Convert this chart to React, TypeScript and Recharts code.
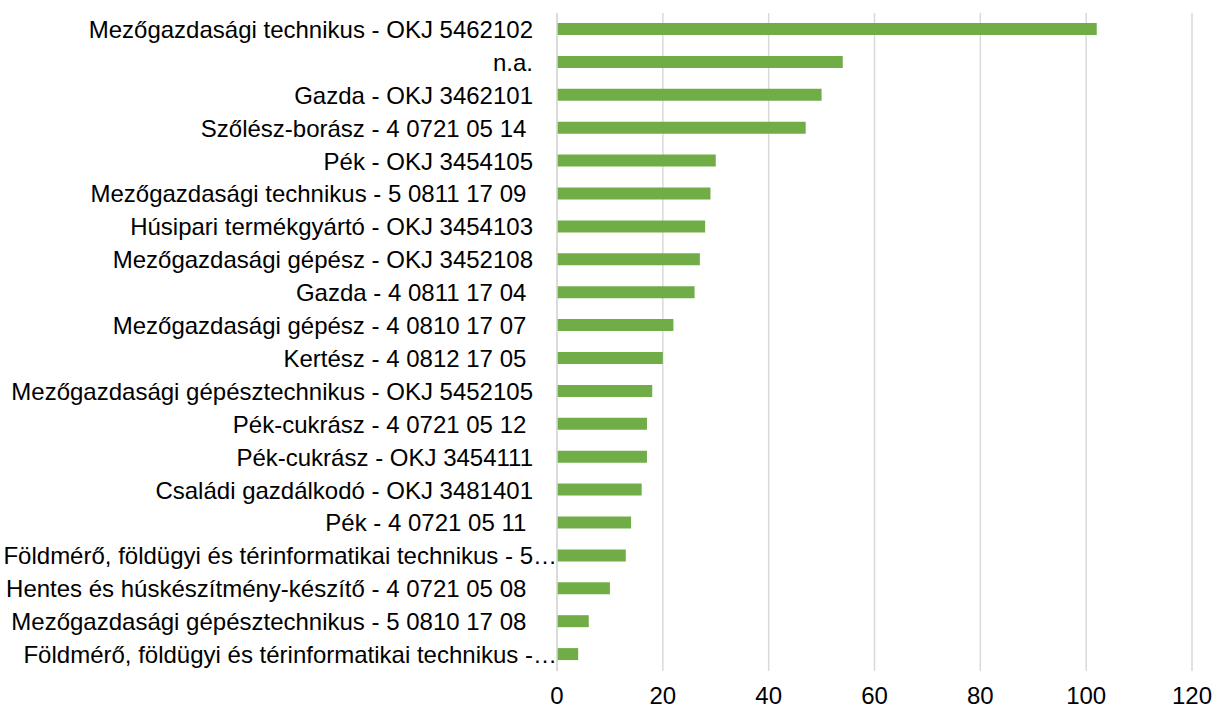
import { Bar, BarChart, CartesianGrid, XAxis, YAxis } from 'recharts';

const categories = [
  'Mezőgazdasági technikus - OKJ 5462102',
  'n.a.',
  'Gazda - OKJ 3462101',
  'Szőlész-borász - 4 0721 05 14 ',
  'Pék - OKJ 3454105',
  'Mezőgazdasági technikus - 5 0811 17 09 ',
  'Húsipari termékgyártó - OKJ 3454103',
  'Mezőgazdasági gépész - OKJ 3452108',
  'Gazda - 4 0811 17 04 ',
  'Mezőgazdasági gépész - 4 0810 17 07 ',
  'Kertész - 4 0812 17 05 ',
  'Mezőgazdasági gépésztechnikus - OKJ 5452105',
  'Pék-cukrász - 4 0721 05 12 ',
  'Pék-cukrász - OKJ 3454111',
  'Családi gazdálkodó - OKJ 3481401',
  'Pék - 4 0721 05 11 ',
  'Földmérő, földügyi és térinformatikai technikus - 5…',
  'Hentes és húskészítmény-készítő - 4 0721 05 08 ',
  'Mezőgazdasági gépésztechnikus - 5 0810 17 08 ',
  'Földmérő, földügyi és térinformatikai technikus -…',
];

const counts = [102, 54, 50, 47, 30, 29, 28, 27, 26, 22, 20, 18, 17, 17, 16, 14, 13, 10, 6, 4];

const xTicks = [0, 20, 40, 60, 80, 100, 120];

const data = categories.map((name, i) => ({ name, value: counts[i] }));

const FONT = '"Liberation Sans", Arial, sans-serif';

// Excel-style category label: long (truncated) labels run right up to the axis
function CategoryTick(props: any) {
  const { x, y, payload } = props;
  const label: string = payload.value;
  const tx = label.endsWith('…') ? x + 24 : x;
  return (
    <text
      x={tx}
      y={y}
      dy="0.355em"
      textAnchor="end"
      fill="#000"
      fontSize={24}
      fontFamily={FONT}
      style={{ whiteSpace: 'pre' }}
    >
      {label}
    </text>
  );
}

export default function App() {
  return (
    <div style={{ width: 1214, height: 709, background: '#fff' }}>
      <style>{'body{margin:0}'}</style>
      <BarChart
        width={1214}
        height={709}
        data={data}
        layout="vertical"
        margin={{ top: 13, right: 22, bottom: 0, left: 0 }}
        barCategoryGap={0}
      >
        <CartesianGrid horizontal={false} stroke="#d9d9d9" strokeWidth={1.5} />
        <XAxis
          type="number"
          domain={[0, 120]}
          ticks={xTicks}
          axisLine={false}
          tickLine={false}
          height={38}
          tickMargin={10}
          tick={{ fontSize: 24, fill: '#000', fontFamily: FONT }}
          interval={0}
        />
        <YAxis
          type="category"
          dataKey="name"
          width={557}
          axisLine={{ stroke: '#d9d9d9', strokeWidth: 1.5 }}
          tickLine={false}
          tickSize={0}
          tickMargin={24}
          interval={0}
          tick={<CategoryTick />}
        />
        <Bar dataKey="value" fill="#70AD47" barSize={12} isAnimationActive={false} />
      </BarChart>
    </div>
  );
}
